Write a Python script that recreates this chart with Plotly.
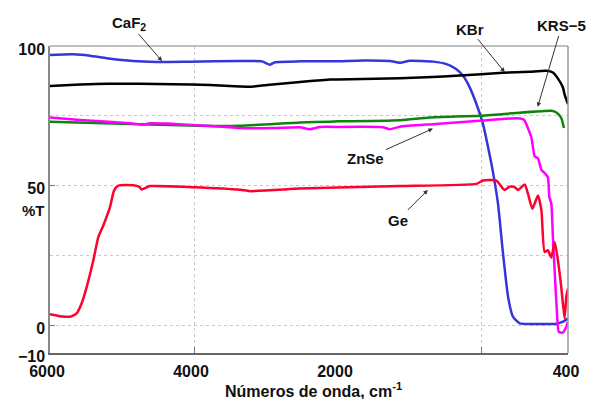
import plotly.graph_objects as go

# ---------------- data (wavenumber cm-1, %T) ----------------
caf2_wn = [6000, 5680, 5444, 5212, 4847, 4518, 4056, 3361, 3056, 2944, 2875, 2528, 2000,
           1826, 1639, 1569, 1500, 1340, 1245, 1176, 1130, 1083, 1037, 991, 956, 922, 887,
           852, 817, 783, 736, 644, 481, 435, 400]
caf2_t = [96.8, 97.0, 96.5, 95.6, 94.6, 94.3, 94.4, 94.6, 94.5, 93.3, 94.2, 94.5, 94.5,
          94.8, 94.6, 94.0, 94.7, 94.4, 93.5, 91.7, 89.3, 85.1, 79.2, 72.0, 63.7, 54.8, 43.5,
          25.6, 10.1, 3.0, 0.6, 0.4, 0.5, 1.2, 2.4]

kbr_wn = [6000, 5583, 5212, 4292, 3778, 3361, 3222, 2986, 2528, 2111, 2000,
          1569, 1384, 1153, 854, 667, 551, 505, 472, 435, 424, 400]
kbr_t = [85.7, 86.2, 86.5, 86.3, 86.0, 85.5, 85.4, 86.0, 87.1, 88.0, 88.0,
         88.4, 88.8, 89.4, 90.4, 90.8, 91.1, 90.5, 88.5, 85.1, 82.7, 79.2]

krs5_wn = [6000, 4750, 3917, 3361, 2528, 2111, 2000, 1569, 1361, 1014, 516, 481, 447, 428]
krs5_t = [72.9, 72.0, 71.4, 71.4, 72.6, 72.9, 73.0, 73.4, 74.4, 75.0, 76.8, 76.2, 74.2, 70.6]

znse_wn = [6000, 5583, 4889, 4708, 4611, 4375, 3819, 3361, 2903, 2528, 2389, 2250, 2000,
           1688, 1639, 1569, 1340, 1062, 1014, 759, 715, 701, 655, 632, 609, 585, 563,
           540, 530, 516, 505, 493, 478, 464, 435, 412, 400]
znse_t = [74.4, 73.5, 72.3, 71.8, 72.3, 72.2, 71.4, 70.6, 70.6, 70.9, 70.2, 71.0, 71.0,
          70.9, 70.2, 71.1, 72.0, 73.0, 73.2, 74.1, 73.8, 73.2, 67.3, 60.5, 59.8, 55.6, 54.5,
          53.0, 46.0, 43.5, 31.5, 19.6, 5.4, -2.4, -2.7, -0.6, 1.2]

ge_wn = [6000, 5861, 5722, 5630, 5560, 5490, 5398, 5329, 5260, 5167, 5111, 5051, 4843,
         4760, 4727, 4611, 4009, 3361, 3222, 2528, 2000, 1569, 1037, 991, 898, 854, 840,
         806, 771, 748, 701, 678, 648, 609, 585, 563, 540, 516, 493, 470, 447, 424, 412, 400]
ge_t = [3.9, 3.2, 3.0, 4.2, 7.8, 13.7, 23.2, 31.5, 35.7, 42.3, 48.2, 50.0, 50.1,
        49.5, 48.6, 49.8, 49.4, 48.5, 48.0, 48.9, 49.3, 49.8, 50.6, 51.8, 51.8, 49.0, 48.4,
        49.6, 49.4, 48.4, 50.4, 47.0, 41.7, 46.4, 41.1, 26.2, 26.8, 24.2, 29.8, 23.2, 13.7,
        2.4, 10.1, 13.1]

x_tickvals_hi = [6000, 4000, 2000]
x_ticktext_hi = ["6000", "4000", "2000"]
x_tickvals_lo = [1000, 400]
x_ticktext_lo = ["", "400"]
y_tickvals = [-10, 0, 50, 100]
y_ticktext = ["\u221210", "0", "50", "100"]
y_minor = [25, 75]

SPLIT = 2000
series = [
    (caf2_wn, caf2_t, "#3636d8"),
    (kbr_wn, kbr_t, "#000000"),
    (krs5_wn, krs5_t, "#0b860b"),
    (znse_wn, znse_t, "#ff00ff"),
    (ge_wn, ge_t, "#ff0030"),
]

fig = go.Figure()
for wn, t, col in series:
    hi = [(w, v) for w, v in zip(wn, t) if w >= SPLIT]
    lo = [(w, v) for w, v in zip(wn, t) if w <= SPLIT]
    for pts, xa in ((hi, "x"), (lo, "x2")):
        fig.add_trace(go.Scatter(
            x=[p[0] for p in pts], y=[p[1] for p in pts], xaxis=xa, yaxis="y",
            mode="lines", line=dict(color=col, width=2.5, shape="spline", smoothing=0.5),
            showlegend=False, hoverinfo="skip"))

FONT = "Liberation Sans, Arial, sans-serif"
D = 288 / 518
grid = dict(showgrid=True, gridcolor="#c8c8c8", griddash="dot", gridwidth=1)
tickf = dict(family=FONT, size=16, color="#111", weight="bold")

fig.update_layout(
    width=592, height=399,
    margin=dict(l=50, r=24, t=46, b=46, autoexpand=False),
    paper_bgcolor="white", plot_bgcolor="white",
    font=dict(family=FONT, color="#111"),
    xaxis=dict(domain=[0, D], range=[6000, 2000], anchor="y",
               tickmode="array", tickvals=x_tickvals_hi, ticktext=x_ticktext_hi,
               ticks="inside", ticklen=6, tickcolor="#777", ticklabelshift=3,
               ticklabelstandoff=3,
               showline=True, linecolor="#666", linewidth=1.5,
               zeroline=False, tickfont=tickf, **grid),
    xaxis2=dict(domain=[D, 1], range=[2000, 400], anchor="y",
                tickmode="array", tickvals=x_tickvals_lo, ticktext=x_ticktext_lo,
                ticks="inside", ticklen=6, tickcolor="#777", ticklabelshift=2,
                ticklabelstandoff=3,
                showline=True, linecolor="#666", linewidth=1.5,
                zeroline=False, tickfont=tickf, **grid),
    yaxis=dict(range=[-10, 100], anchor="x",
               tickmode="array", tickvals=y_tickvals, ticktext=y_ticktext,
               ticks="inside", ticklen=5, tickcolor="#777",
               ticklabelshift=3, ticklabelstandoff=0,
               showline=True, linecolor="#888", linewidth=1.5,
               zeroline=False, tickfont=tickf, **grid,
               minor=dict(tickmode="array", tickvals=y_minor, showgrid=True,
                          gridcolor="#c8c8c8", griddash="dot", ticklen=0)),
    shapes=[
        dict(type="line", xref="paper", yref="paper", x0=0, x1=1, y0=1, y1=1,
             line=dict(color="#aaaaaa", width=1.5)),
        dict(type="line", xref="paper", yref="paper", x0=1, x1=1, y0=0, y1=1,
             line=dict(color="#999999", width=1.5)),
    ],
)

afont = dict(family=FONT, size=15, color="#111", weight="bold")
arrow = dict(showarrow=True, arrowhead=2, arrowsize=0.9, arrowwidth=1, arrowcolor="#333")
anns = [
    dict(text="CaF<sub>2</sub>", x=4444, y=94.6, xref="x", yref="y", ax=-33, ay=-38, **arrow),
    dict(text="KBr", x=840, y=90.6, xref="x2", yref="y", ax=-35, ay=-43, **arrow),
    dict(text="KRS\u22125", x=611, y=78.2, xref="x2", yref="y", ax=24, ay=-81, **arrow),
    dict(text="ZnSe", x=1340, y=70.4, xref="x2", yref="y", ax=-67, ay=30, **arrow),
    dict(text="Ge", x=1375, y=48.4, xref="x2", yref="y", ax=-30, ay=30, **arrow),
]
for a in anns:
    fig.add_annotation(font=afont, **a)

fig.add_annotation(text="%T", xref="paper", yref="paper", x=(20 - 50) / 518, y=(353 - 210) / 307,
                   showarrow=False, font=dict(family=FONT, size=15, color="#111", weight="bold"))
fig.add_annotation(text="Números de onda, cm<sup>-1</sup>", xref="paper", yref="paper",
                   x=(313 - 50) / 518, y=(353 - 401.5) / 307, yanchor="bottom", showarrow=False,
                   font=dict(family=FONT, size=16, color="#111", weight="bold"))

fig.write_html("out.html")
